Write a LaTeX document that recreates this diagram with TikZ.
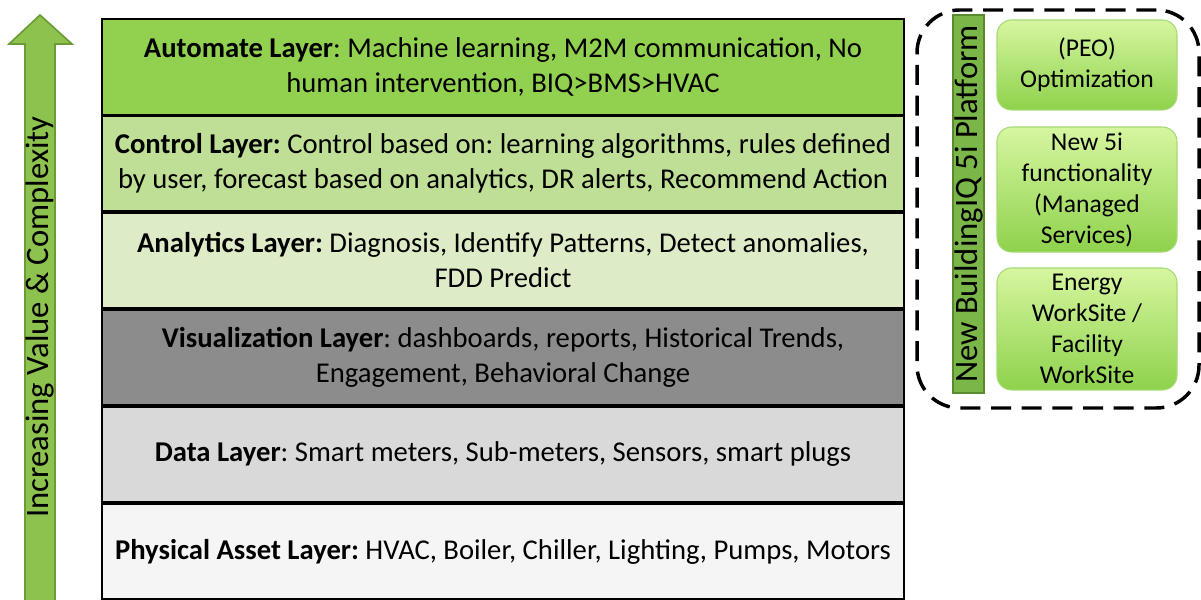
\documentclass[tikz,border=0pt]{standalone}
\usepackage{fontspec}
\setmainfont{Carlito}
\usetikzlibrary{shapes,positioning,calc}

\definecolor{automate}{HTML}{92D050}
\definecolor{control}{HTML}{BEDF95}
\definecolor{analytics}{HTML}{DDEBC6}
\definecolor{visual}{HTML}{8C8C8C}
\definecolor{datal}{HTML}{D9D9D9}
\definecolor{physical}{HTML}{F5F5F5}
\definecolor{arrowgreen}{HTML}{8DC24F}
\definecolor{arrowedge}{HTML}{6A9B35}
\definecolor{bargreen}{HTML}{7AB648}
\definecolor{baredge}{HTML}{5B8A2E}
\definecolor{boxtop}{HTML}{D6F6A0}
\definecolor{boxbottom}{HTML}{8ED24C}
\definecolor{boxedge}{HTML}{A6DA74}

\frenchspacing

\begin{document}
\begin{tikzpicture}[x=0.75pt,y=-0.75pt,
  layer/.style={draw, line width=2.2pt, minimum width=601.5pt, minimum height=72pt,
    inner sep=0pt, align=center, font=\fontsize{21.5}{26.25}\selectfont},
  optbox/.style={draw=boxedge, line width=0.8pt, rounded corners=11pt,
    top color=boxtop, bottom color=boxbottom, minimum width=135pt,
    inner sep=0pt, align=center, font=\fontsize{19.2}{23.25}\selectfont}]

\useasboundingbox (0,0) rectangle (1201,599);

% Value arrow
\draw[fill=arrowgreen, draw=arrowedge, line width=1.2pt]
  (40,15) -- (72,44) -- (55,44) -- (55,602) -- (25,602) -- (25,44) -- (9,44) -- cycle;
\node[rotate=90, font=\fontsize{24.5}{28}\selectfont] (valuelabel) at (40,317)
  {Increasing Value \& Complexity};

% Layers
\node[layer, fill=automate] (automate) at (503,67)
  {\textbf{Automate Layer}: Machine learning, M2M communication, No\\
   human intervention, BIQ>BMS>HVAC};
\node[layer, fill=control] (control) at (503,163.5)
  {\textbf{Control Layer:} Control based on: learning algorithms, rules defined\\
   by user, forecast based on analytics, DR alerts, Recommend Action};
\node[layer, fill=analytics] (analytics) at (503,260.5)
  {\textbf{Analytics Layer:} Diagnosis, Identify Patterns, Detect anomalies,\\
   FDD Predict};
\node[layer, fill=visual] (visual) at (503,357.5)
  {\textbf{Visualization Layer}: dashboards, reports, Historical Trends,\\
   Engagement, Behavioral Change};
\node[layer, fill=datal] (datalayer) at (503,454.5)
  {\textbf{Data Layer}: Smart meters, Sub-meters, Sensors, smart plugs};
\node[layer, fill=physical] (physical) at (503,551.5)
  {\textbf{Physical Asset Layer:} HVAC, Boiler, Chiller, Lighting, Pumps, Motors};

% Platform panel
\node[draw, line width=2.6pt, dash pattern=on 15pt off 8pt, rounded corners=32pt,
  minimum width=211.5pt, minimum height=298.5pt] (platform) at (1058,209) {};
\node[rotate=90, fill=bargreen, draw=baredge, line width=1pt, inner sep=0pt,
  minimum width=283.5pt, minimum height=23.25pt, font=\fontsize{24.5}{28}\selectfont]
  (platformbar) at (968.5,204) {New BuildingIQ 5i Platform};

\node[optbox, minimum height=67.5pt] (peo) at (1087,65) {(PEO)\\Optimization};
\node[optbox, minimum height=93.75pt] (managed) at (1087,189.5)
  {New 5i\\functionality\\(Managed\\Services)};
\node[optbox, minimum height=91.5pt] (worksite) at (1087,329)
  {Energy\\WorkSite /\\Facility\\WorkSite};

\end{tikzpicture}
\end{document}
